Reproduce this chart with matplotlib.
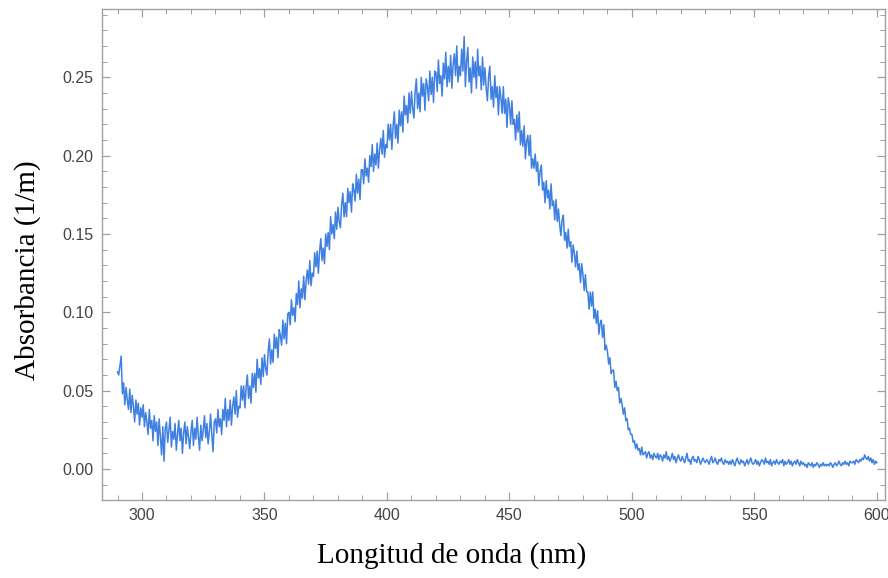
import numpy as np
import matplotlib
matplotlib.use("Agg")
import matplotlib.pyplot as plt
from matplotlib.ticker import MultipleLocator, FormatStrFormatter

# Wavelength grid (nm): starts at 290 nm, 0.5 nm steps
wavelength_start = 290.0
wavelength_step = 0.5

# Absorbance, in units of 0.001 (1/m); one row = 10 nm
absorbance_milli = [
    62, 60, 66, 72, 48, 55, 41, 52, 44, 38, 51, 36, 47, 40, 30, 44, 35, 42, 28, 39,          # 290
    33, 41, 27, 36, 30, 22, 38, 26, 31, 18, 34, 24, 30, 15, 32, 21, 9, 27, 5, 26,             # 300
    30, 17, 25, 33, 14, 24, 19, 29, 12, 22, 31, 18, 26, 10, 23, 30, 16, 27, 20, 13,           # 310
    24, 31, 15, 26, 19, 33, 21, 12, 28, 18, 25, 34, 20, 29, 16, 24, 35, 22, 11, 30,           # 320
    32, 23, 38, 27, 32, 22, 38, 31, 45, 27, 38, 31, 44, 28, 40, 46, 35, 50, 33, 40,           # 330
    39, 53, 44, 53, 39, 52, 60, 45, 53, 42, 61, 52, 61, 49, 70, 58, 64, 54, 71, 59,           # 340
    73, 64, 60, 75, 83, 67, 76, 68, 86, 77, 84, 71, 89, 85, 79, 95, 83, 93, 80, 99,           # 350
    100, 92, 108, 98, 103, 94, 112, 105, 120, 103, 115, 109, 123, 108, 120, 127, 118, 133, 117, 125,  # 360
    123, 138, 129, 139, 125, 139, 147, 133, 141, 131, 150, 142, 151, 140, 161, 150, 156, 147, 164, 153,  # 370
    167, 158, 154, 169, 176, 161, 170, 161, 179, 170, 177, 164, 182, 178, 171, 188, 176, 185, 172, 191,  # 380
    191, 182, 198, 187, 192, 183, 200, 193, 207, 190, 201, 194, 208, 192, 204, 211, 201, 216, 199, 207,  # 390
    205, 220, 210, 220, 204, 219, 228, 211, 220, 208, 229, 219, 228, 215, 238, 226, 232, 221, 240, 227,  # 400
    241, 230, 224, 241, 249, 230, 240, 228, 250, 238, 246, 229, 249, 244, 235, 254, 239, 250, 234, 254,  # 410
    253, 241, 261, 246, 251, 238, 259, 249, 266, 244, 257, 247, 264, 243, 258, 265, 251, 270, 247, 257,  # 420
    251, 268, 254, 276, 244, 260, 269, 247, 256, 240, 263, 250, 260, 243, 268, 251, 257, 242, 263, 245,  # 430
    256, 243, 235, 251, 257, 236, 244, 231, 251, 237, 244, 226, 244, 237, 227, 244, 227, 236, 218, 237,  # 440
    232, 220, 235, 220, 223, 210, 226, 215, 228, 207, 216, 206, 219, 198, 209, 213, 200, 213, 192, 198,  # 450
    192, 201, 190, 196, 181, 190, 194, 178, 183, 170, 184, 173, 178, 166, 182, 168, 171, 159, 172, 158,  # 460
    166, 156, 149, 159, 162, 146, 151, 141, 153, 142, 145, 132, 143, 138, 129, 139, 127, 131, 119, 131,  # 470
    124, 114, 124, 113, 113, 102, 113, 104, 113, 96, 102, 93, 101, 86, 93, 95, 84, 92, 76, 79,          # 480
    75, 67, 71, 61, 63, 63, 52, 56, 50, 52, 42, 45, 41, 35, 39, 31, 32, 25, 26, 22,                   # 490
    22, 17, 18, 13, 16, 12, 13, 9, 14, 9, 10, 11, 7, 10, 11, 7, 9, 6, 10, 8,                          # 500
    7, 10, 6, 9, 8, 5, 9, 7, 11, 6, 8, 5, 7, 10, 6, 8, 4, 7, 9, 6,                                    # 510
    5, 8, 6, 4, 7, 10, 5, 6, 3, 7, 8, 5, 6, 4, 8, 6, 3, 5, 7, 5,                                      # 520
    4, 6, 5, 3, 6, 8, 4, 5, 7, 4, 3, 6, 5, 7, 4, 3, 6, 4, 5, 3,                                       # 530
    5, 3, 6, 4, 2, 5, 7, 4, 3, 6, 4, 5, 2, 4, 6, 3, 5, 7, 4, 3,                                       # 540
    4, 6, 3, 5, 2, 4, 6, 5, 3, 7, 4, 5, 3, 6, 2, 4, 5, 3, 6, 4,                                       # 550
    3, 5, 4, 6, 2, 5, 3, 4, 6, 3, 5, 2, 4, 5, 3, 6, 4, 2, 5, 3,                                       # 560
    4, 2, 3, 1, 4, 3, 2, 4, 1, 3, 2, 4, 3, 1, 3, 2, 4, 2, 3, 2,                                       # 570
    3, 2, 4, 3, 1, 3, 4, 2, 3, 5, 3, 2, 4, 3, 5, 3, 4, 2, 5, 4,                                       # 580
    4, 5, 3, 6, 5, 4, 6, 5, 7, 6, 9, 7, 6, 8, 5, 7, 4, 6, 3, 5,                                       # 590
    4,                                                                                                # 600
]

xticks = [300, 350, 400, 450, 500, 550, 600]
yticks = [0.00, 0.05, 0.10, 0.15, 0.20, 0.25]

absorbance = np.array(absorbance_milli) / 1000.0
wavelength = wavelength_start + wavelength_step * np.arange(len(absorbance))

W, H = 888, 578
fig = plt.figure(figsize=(W / 100, H / 100), dpi=100)
ax = fig.add_axes([101.7 / W, 1 - 500 / H, (885 - 101.7) / W, (500 - 9.3) / H])

ax.plot(wavelength, absorbance, color="#3f80e0", lw=1.1)

ax.set_xlim(283.55, 603.3)
ax.set_ylim(-0.0198, 0.2934)
ax.set_xticks(xticks)
ax.set_yticks(yticks)
ax.xaxis.set_minor_locator(MultipleLocator(10))
ax.yaxis.set_minor_locator(MultipleLocator(0.01))
ax.yaxis.set_major_formatter(FormatStrFormatter("%.2f"))

frame_col = "#a0a0a0"
for s in ax.spines.values():
    s.set_color(frame_col)
    s.set_linewidth(1.0)
ax.tick_params(which="both", direction="in", top=True, right=True,
               color=frame_col, labelcolor="#444444")
ax.tick_params(which="major", length=6, width=0.9, labelsize=11.5, pad=6)
ax.tick_params(which="minor", length=3.5, width=0.7)
for lab in ax.get_xticklabels() + ax.get_yticklabels():
    lab.set_family("Liberation Sans")

fig.text(452 / W, 1 - 556 / H, "Longitud de onda (nm)", family="Liberation Serif",
         fontsize=21, ha="center", va="center")
fig.text(28 / W, 1 - 270 / H, "Absorbancia (1/m)", family="Liberation Serif",
         fontsize=21, ha="center", va="center", rotation=90)

fig.savefig("out.png", dpi=100)
